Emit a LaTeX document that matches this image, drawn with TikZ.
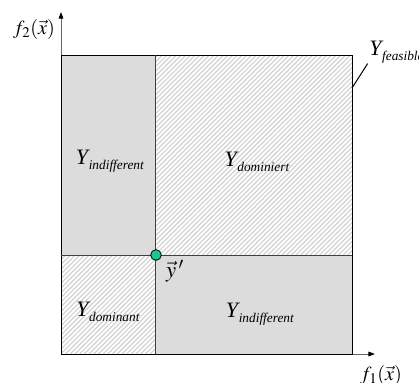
\documentclass[tikz,border=0pt]{standalone}
\usepackage{mathptmx}
\usepackage[no-math]{fontspec}
\setmainfont{Liberation Serif}
\usetikzlibrary{positioning,arrows.meta}
\definecolor{minze}{HTML}{1CC496}
\definecolor{flaeche}{HTML}{DCDCDC}
\definecolor{schraff}{HTML}{D2D2D2}
\newcommand{\Ymenge}[1]{{\fontsize{16.5}{18}\selectfont\textit{Y}}\kern-1pt\raisebox{-4pt}{\fontsize{10}{12}\selectfont\textit{#1}}}

\begin{document}
\begin{tikzpicture}[x=0.75pt, y=-0.75pt, >={Triangle[length=5pt,width=3.5pt,color=black]},
      achse/.style={draw=black!60, line width=0.75pt},
      rand/.style={draw=black, line width=0.75pt},
      teiler/.style={draw=black!75, line width=0.75pt},
      lbl/.style={inner sep=0pt, font=\fontsize{15}{17}\selectfont},
      punkt/.style={circle, draw=black, fill=minze, line width=0.6pt,
                    minimum size=8pt, inner sep=0pt}]
    \useasboundingbox (0,0) rectangle (419,383);
    % gray regions
    \fill[flaeche] (61,55) rectangle (156,255);
    \fill[flaeche] (156,255) rectangle (352,354);
    % hatched regions
    \begin{scope}
      \clip (156,55) rectangle (352,255) (61,255) rectangle (156,354);
      \foreach \a in {0,...,130}
        \draw[schraff, line width=0.9pt] ({-240+\a*4.7},354) -- ++(300,-300);
    \end{scope}
    % axes
    \coordinate (ursprung) at (61,354);
    \coordinate (yspitze) at (61,12);
    \coordinate (xspitze) at (375,354);
    \draw[achse, ->] (ursprung) -- (yspitze);
    \draw[achse, ->] (ursprung) -- (xspitze);
    % feasible set and dividers
    \draw[rand] (61,55) rectangle (352,354);
    \draw[teiler] (156,55) -- (156,354);
    \draw[teiler] (61,255) -- (352,255);
    \node[punkt] (yp) at (156,255) {};
    % labels
    \node[lbl] (fzwei) at (34,29) {$f_2(\vec{x})$};
    \node[lbl] (feins) at (381,375) {$f_1(\vec{x})$};
    \node[lbl, font=\fontsize{17}{19}\selectfont] (ystrich) at (175,271) {$\vec{y}\,'$};
    \node[inner sep=0pt] (indo) at (110,161) {\Ymenge{indifferent}};
    \node[inner sep=0pt] (domt) at (257,162) {\Ymenge{dominiert}};
    \node[inner sep=0pt] (domn) at (108,312) {\Ymenge{dominant}};
    \node[inner sep=0pt] (indu) at (260,314) {\Ymenge{indifferent}};
    \node[inner sep=0pt, anchor=west] (feas) at (369,52) {\Ymenge{feasible}};
    \coordinate (ecke) at (352,88);
    \draw[black, line width=0.75pt] (ecke) -- ([xshift=-1pt]feas.south west);
\end{tikzpicture}
\end{document}
